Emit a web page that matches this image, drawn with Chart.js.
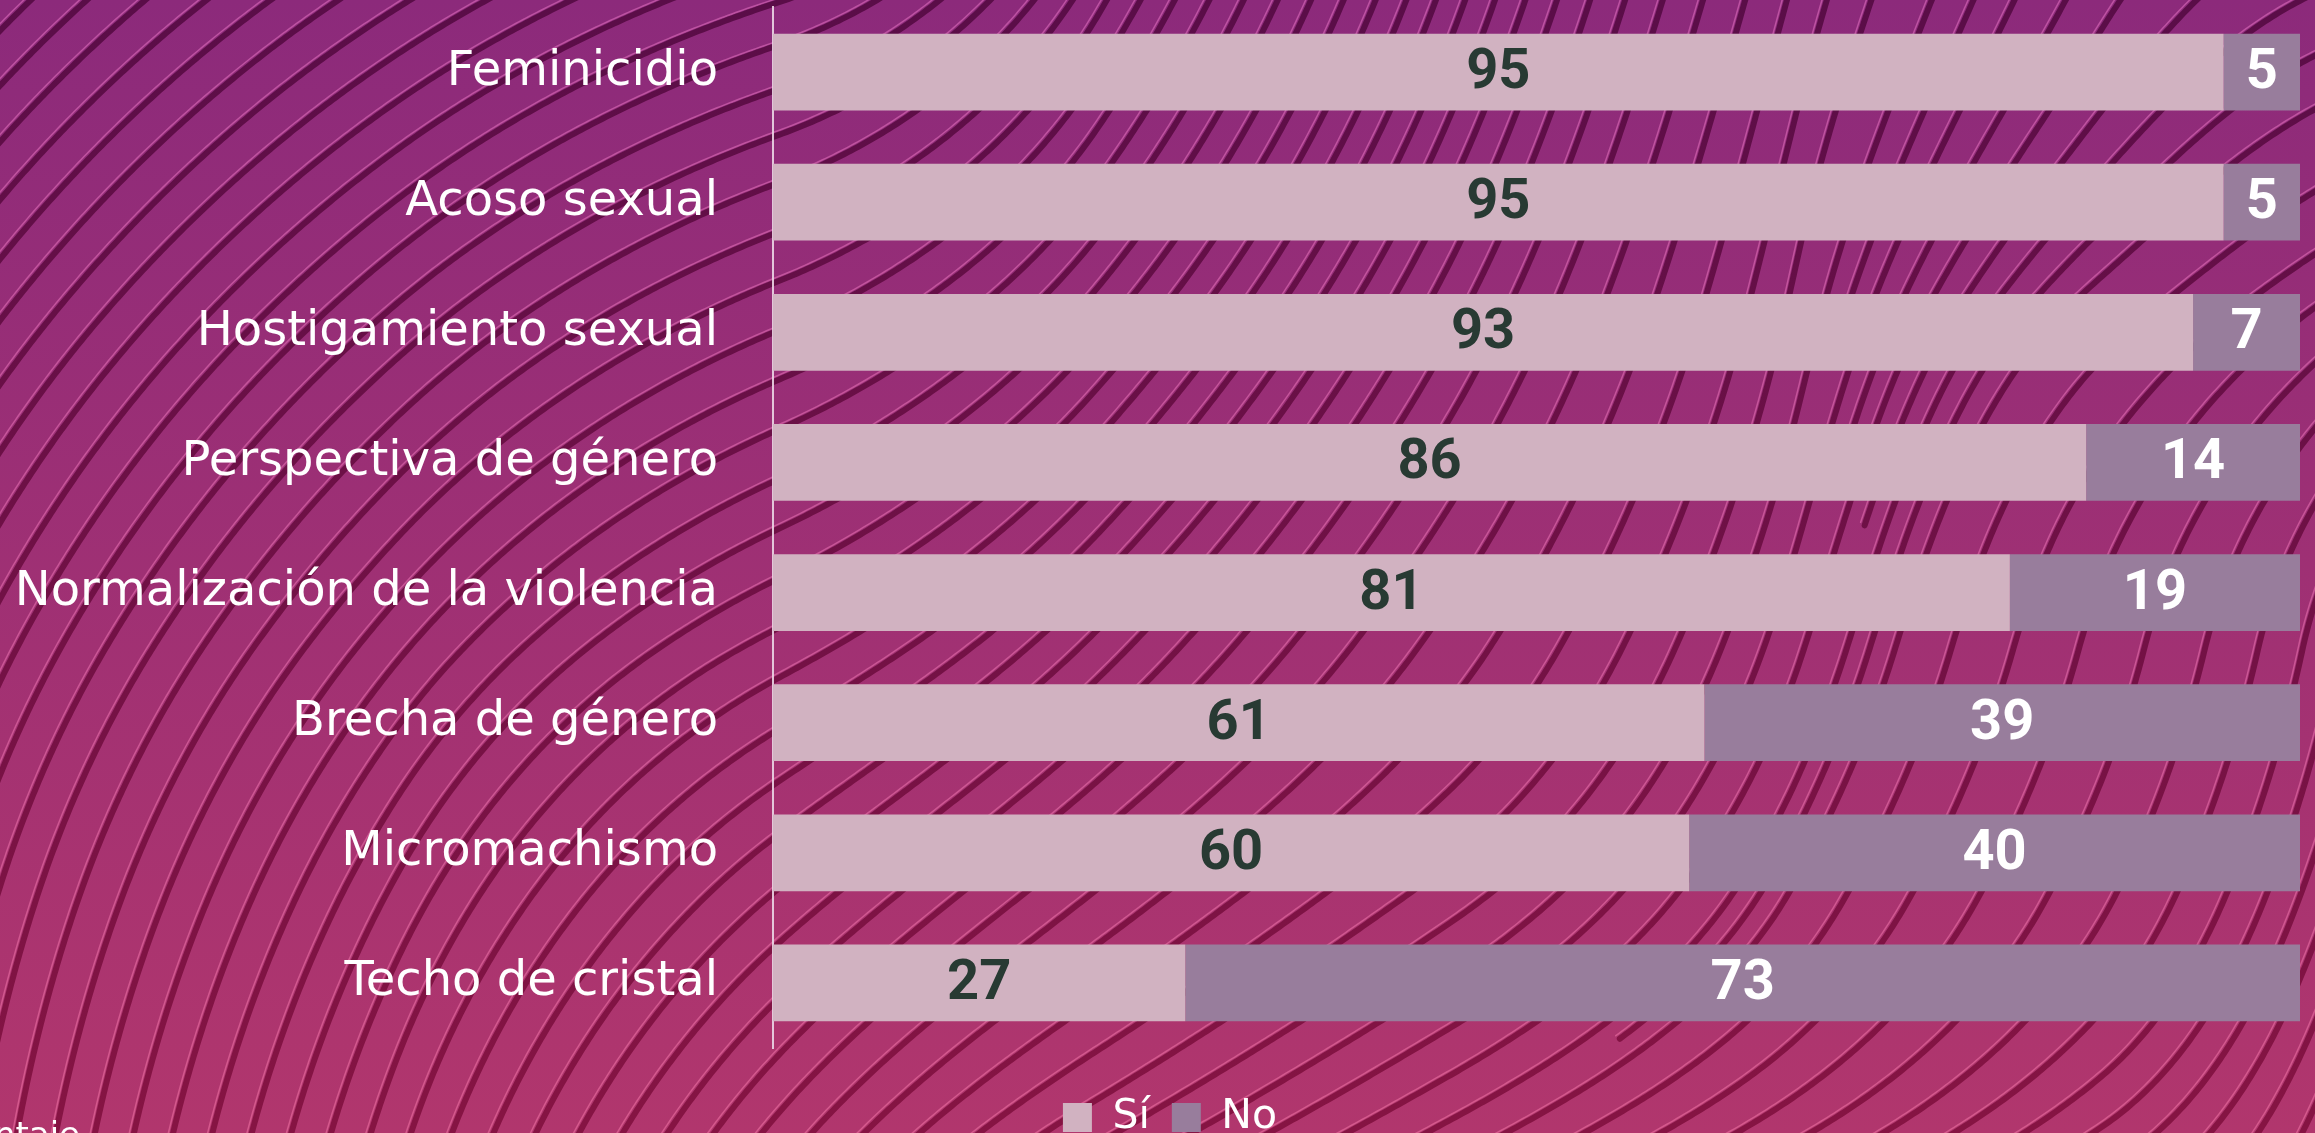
<!DOCTYPE html>
<html lang="es">
<head>
<meta charset="utf-8">
<title>Conocimiento de conceptos</title>
<script src="https://cdn.jsdelivr.net/npm/chart.js@4.4.0/dist/chart.umd.min.js"></script>
<style>
    html, body { margin: 0; padding: 0; overflow: hidden; background: #9c2f75; }
    #wrap { width: 2315px; height: 1133px; }
</style>
</head>
<body>
<div id="wrap"><canvas id="chart" width="2315" height="1133"></canvas></div>
<script>
// Chart data
const categories = [
    'Feminicidio',
    'Acoso sexual',
    'Hostigamiento sexual',
    'Perspectiva de género',
    'Normalización de la violencia',
    'Brecha de género',
    'Micromachismo',
    'Techo de cristal'
];
const siValues = [95, 95, 93, 86, 81, 61, 60, 27];
const noValues = [5, 5, 7, 14, 19, 39, 40, 73];
const seriesNames = ['Sí', 'No'];
const axisTitle = 'Porcentaje';

const SI_COLOR = '#d1b2c1';
const NO_COLOR = '#987d9c';
const LABEL_FONT = '"DejaVu Sans", sans-serif';

// Direction of the wavy background lines (degrees above horizontal)
const waveCols = [0, 400, 780, 1100, 1450, 1800, 2100, 2315];
const waveRows = [0, 300, 650, 900, 1133];
const waveAngles = [
    [45, 32, 18, 60, 70, 75, 60, 25],
    [52, 40, 22, 50, 62, 78, 40, 35],
    [63, 50, 27, 45, 55, 72, 75, 78],
    [73, 62, 40, 38, 35, 60, 62, 70],
    [80, 72, 50, 30, 28, 30, 33, 65]
];

function waveAngle(x, y) {
    x = Math.min(Math.max(x, 0), 2315);
    y = Math.min(Math.max(y, 0), 1133);
    let i = 0, j = 0;
    while (i < waveCols.length - 2 && x > waveCols[i + 1]) i++;
    while (j < waveRows.length - 2 && y > waveRows[j + 1]) j++;
    const tx = (x - waveCols[i]) / (waveCols[i + 1] - waveCols[i]);
    const ty = (y - waveRows[j]) / (waveRows[j + 1] - waveRows[j]);
    const a = waveAngles[j][i] * (1 - tx) + waveAngles[j][i + 1] * tx;
    const b = waveAngles[j + 1][i] * (1 - tx) + waveAngles[j + 1][i + 1] * tx;
    return (a * (1 - ty) + b * ty) * Math.PI / 180;
}

// Evenly spaced streamlines following the angle field
function buildWaves(W, H, sep) {
    const cell = sep;
    const cols = Math.ceil(W / cell) + 3, rows = Math.ceil(H / cell) + 3;
    const grid = Array.from({ length: cols * rows }, () => []);
    const lines = [];
    const test = sep * 0.55, step = 4;

    const cellOf = (x, y) => [Math.floor(x / cell) + 1, Math.floor(y / cell) + 1];

    function near(x, y, r, id) {
        const [cx, cy] = cellOf(x, y);
        for (let j = cy - 1; j <= cy + 1; j++) {
            for (let i = cx - 1; i <= cx + 1; i++) {
                if (i < 0 || j < 0 || i >= cols || j >= rows) continue;
                for (const p of grid[j * cols + i]) {
                    if (p[2] === id) continue;
                    const dx = p[0] - x, dy = p[1] - y;
                    if (dx * dx + dy * dy < r * r) return true;
                }
            }
        }
        return false;
    }

    function trace(x0, y0, id) {
        const half = sign => {
            const pts = [];
            let x = x0, y = y0;
            for (let k = 0; k < 2000; k++) {
                const a1 = waveAngle(x, y);
                const mx = x + sign * Math.cos(a1) * step / 2;
                const my = y - sign * Math.sin(a1) * step / 2;
                const a2 = waveAngle(mx, my);
                x += sign * Math.cos(a2) * step;
                y -= sign * Math.sin(a2) * step;
                if (x < -20 || x > W + 20 || y < -20 || y > H + 20) { pts.push([x, y]); break; }
                if (near(x, y, test, id)) break;
                pts.push([x, y]);
            }
            return pts;
        };
        const fwd = half(1), back = half(-1);
        return back.reverse().concat([[x0, y0]], fwd);
    }

    function addLine(pts) {
        const id = lines.length;
        pts.forEach(p => {
            const [cx, cy] = cellOf(p[0], p[1]);
            if (cx >= 0 && cy >= 0 && cx < cols && cy < rows) grid[cy * cols + cx].push([p[0], p[1], id]);
        });
        lines.push(pts);
    }

    const queue = [];
    const first = trace(W / 2, H / 2, 0);
    addLine(first);
    queue.push(first);
    while (queue.length) {
        const line = queue.shift();
        for (let k = 0; k < line.length; k += 2) {
            const [x, y] = line[k];
            const a = waveAngle(x, y);
            const nx = Math.sin(a), ny = Math.cos(a);
            for (const s of [1, -1]) {
                const sx = x + s * nx * sep, sy = y + s * ny * sep;
                if (sx < -10 || sx > W + 10 || sy < -10 || sy > H + 10) continue;
                if (near(sx, sy, sep * 0.95, -1)) continue;
                const pts = trace(sx, sy, lines.length);
                if (pts.length < 6) continue;
                addLine(pts);
                queue.push(pts);
            }
        }
    }
    return lines;
}

const backgroundPlugin = {
    id: 'wavyBackground',
    afterLayout(chart) {
        // nudge the legend to where it sits in the original
        if (chart.legend) chart.legend.left += 40;
    },
    beforeDraw(chart) {
        const ctx = chart.ctx;
        const W = chart.width, H = chart.height;
        ctx.save();
        const bg = ctx.createLinearGradient(0, 0, 0, H);
        bg.addColorStop(0, '#8c2a7b');
        bg.addColorStop(1, '#b1366d');
        ctx.fillStyle = bg;
        ctx.fillRect(0, 0, W, H);

        if (!this.lines) this.lines = buildWaves(W, H, 38);
        const lines = this.lines;

        const light = ctx.createLinearGradient(0, 0, 0, H);
        light.addColorStop(0, 'rgba(205, 95, 175, 0.75)');
        light.addColorStop(1, 'rgba(225, 100, 150, 0.75)');
        const dark = ctx.createLinearGradient(0, 0, 0, H);
        dark.addColorStop(0, '#5a0d48');
        dark.addColorStop(1, '#861443');

        ctx.lineJoin = 'round';
        ctx.lineCap = 'round';
        lines.forEach(pts => {
            ctx.beginPath();
            pts.forEach((p, i) => i ? ctx.lineTo(p[0] - 4, p[1] - 3) : ctx.moveTo(p[0] - 4, p[1] - 3));
            ctx.strokeStyle = light;
            ctx.lineWidth = 1.5;
            ctx.stroke();
        });
        lines.forEach(pts => {
            ctx.beginPath();
            pts.forEach((p, i) => i ? ctx.lineTo(p[0], p[1]) : ctx.moveTo(p[0], p[1]));
            ctx.strokeStyle = dark;
            ctx.lineWidth = 6;
            ctx.stroke();
        });
        ctx.restore();
    },
    afterDraw(chart) {
        // axis title, mostly cut off at the bottom-left corner
        const ctx = chart.ctx;
        ctx.save();
        ctx.fillStyle = '#ffffff';
        ctx.font = '34px ' + LABEL_FONT;
        ctx.textAlign = 'right';
        ctx.textBaseline = 'alphabetic';
        ctx.fillText(axisTitle, 80, 1146);
        ctx.restore();
    }
};

const valueLabelPlugin = {
    id: 'valueLabels',
    afterDatasetsDraw(chart) {
        const ctx = chart.ctx;
        ctx.save();
        ctx.font = 'bold 56px Roboto, sans-serif';
        ctx.textAlign = 'center';
        ctx.textBaseline = 'middle';
        chart.data.datasets.forEach((ds, di) => {
            const meta = chart.getDatasetMeta(di);
            ctx.fillStyle = di === 0 ? '#283a33' : '#ffffff';
            meta.data.forEach((bar, i) => {
                const cx = (bar.x + bar.base) / 2;
                ctx.fillText(String(ds.data[i]), cx, bar.y + 2);
            });
        });
        ctx.restore();
    }
};

const chart = new Chart(document.getElementById('chart'), {
    type: 'bar',
    data: {
        labels: categories,
        datasets: [
            { label: seriesNames[0], data: siValues, backgroundColor: SI_COLOR },
            { label: seriesNames[1], data: noValues, backgroundColor: NO_COLOR }
        ]
    },
    options: {
        indexAxis: 'y',
        responsive: false,
        animation: false,
        devicePixelRatio: 1,
        categoryPercentage: 1,
        barPercentage: 0.59,
        layout: {
            padding: { top: 7, right: 15, bottom: -15, left: 0 }
        },
        scales: {
            x: {
                stacked: true,
                min: 0,
                max: 100,
                display: false
            },
            y: {
                stacked: true,
                grid: { display: false, drawTicks: false },
                border: { display: true, color: 'rgba(235, 215, 230, 0.9)', width: 2 },
                ticks: {
                    color: '#ffffff',
                    padding: 55,
                    font: { family: LABEL_FONT, size: 48 }
                },
                afterFit(scale) {
                    scale.width = 773;
                    scale.paddingTop = 0;
                    scale.paddingBottom = 0;
                }
            }
        },
        plugins: {
            legend: {
                position: 'bottom',
                title: {
                    display: true,
                    text: '',
                    padding: { top: 0, bottom: 3 },
                    font: { size: 20 }
                },
                labels: {
                    color: '#ffffff',
                    boxWidth: 29,
                    boxHeight: 29,
                    padding: 22,
                    font: { family: LABEL_FONT, size: 41 }
                }
            },
            tooltip: { enabled: false }
        }
    },
    plugins: [backgroundPlugin, valueLabelPlugin]
});
</script>
</body>
</html>
